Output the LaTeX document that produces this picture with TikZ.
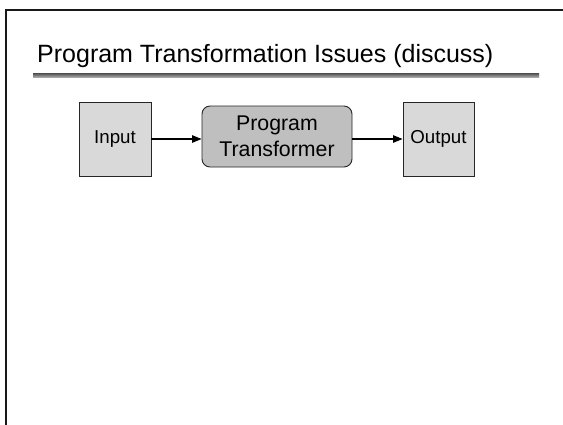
\documentclass[tikz,border=0pt]{standalone}
\usepackage{fontspec}
\setmainfont{Liberation Sans}
\usetikzlibrary{arrows.meta}
\begin{document}
\begin{tikzpicture}[x=1pt,y=-1pt,
  sqbox/.style={draw=black!85,line width=0.9pt,fill=black!15,minimum width=72pt,minimum height=74pt,inner sep=0pt,font=\fontsize{18.7}{22}\selectfont},
  procbox/.style={draw=black!85,line width=0.9pt,fill=black!25,rounded corners=8pt,minimum width=150pt,minimum height=61pt,inner sep=0pt,align=center,font=\fontsize{21.3}{26}\selectfont},
  conn/.style={line width=1.1pt,-{Triangle[length=9.5pt,width=7.5pt]}}]
\useasboundingbox (0,0) rectangle (563,424);
\clip (0,0) rectangle (563,424);
\fill[white] (0,0) rectangle (563,424);
% slide frame
\draw[line width=2pt,black!90] (6,10) rectangle (700,600);
% title
\node[anchor=base west,inner sep=0pt,font=\fontsize{25}{30}\selectfont] (title) at (37,62) {Program Transformation Issues (discuss)};
\shade[top color=black!70,bottom color=black!35] (33,73) rectangle (539,77);
% diagram
\node[sqbox] (in) at (115,139) {Input};
\node[procbox] (pt) at (277,136.5) {Program\\Transformer};
\node[sqbox,minimum width=71pt] (out) at (438.5,139) {Output};
\draw[conn] (in.east) -- (in.east -| pt.west);
\draw[conn] (pt.east |- out.west) -- (out.west);
\end{tikzpicture}
\end{document}
